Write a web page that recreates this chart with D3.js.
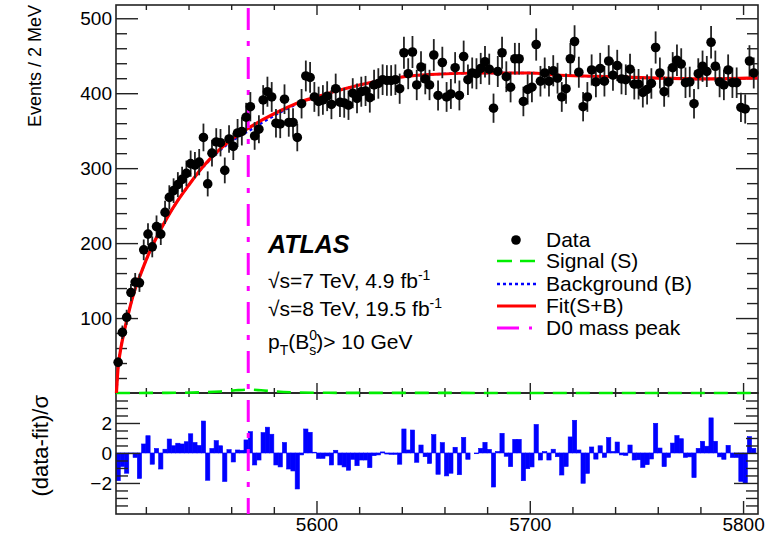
<!DOCTYPE html>
<html>
<head>
<meta charset="utf-8">
<script src="https://cdn.jsdelivr.net/npm/d3@7"></script>
<style>
body { margin: 0; background: #fff; }
text { font-family: "Liberation Sans", Arial, Helvetica, sans-serif; fill: #000; }
</style>
</head>
<body>
<div id="chart"></div>
<script>
// 2 MeV bins, lower edges
var binLow = d3.range(5506, 5806, 2);

// events per bin (top panel)
var events = [
  41, 81, 101, 134, 148, 147, 191, 212, 195, 222,
  212, 241, 261, 270, 278, 285, 293, 306, 304, 308,
  341, 279, 320, 335, 334, 297, 339, 329, 347, 349,
  368, 382, 343, 352, 391, 402, 395, 360, 359, 392,
  361, 361, 341, 386, 423, 421, 395, 389, 391, 396,
  385, 406, 388, 387, 384, 400, 393, 402, 403, 394,
  411, 413, 418, 417, 417, 418, 406, 454, 426, 455,
  411, 435, 419, 411, 451, 397, 441, 395, 399, 434,
  397, 449, 418, 427, 426, 433, 442, 432, 380, 429,
  454, 422, 408, 446, 446, 389, 405, 408, 465, 416,
  427, 416, 430, 420, 395, 406, 446, 469, 428, 382,
  395, 431, 415, 433, 416, 443, 424, 437, 419, 418,
  432, 412, 412, 401, 405, 413, 461, 427, 402, 415,
  434, 444, 439, 414, 415, 386, 426, 436, 429, 468,
  436, 415, 411, 431, 414, 414, 381, 379, 443, 427
];

// (data-fit)/sigma per bin (lower panel)
var pull = [
  -1.85, -0.9, -1.35, -0.05, -0.3, -1.7, 0.6, 1.15, -0.75, 0.3,
  -1.07, 0.25, 0.93, 0.48, 0.65, 0.6, 0.75, 1.28, 0.7, 0.5,
  2.13, -1.82, 0.3, 0.82, 0.48, -1.9, 0.22, -0.6, 0.2, 0.18,
  0.87, 1.42, -0.8, -0.47, 1.36, 1.72, 1.25, -0.8, -0.93, 0.7,
  -1.07, -1.2, -2.4, -0.13, 1.6, 1.38, 0.05, -0.36, -0.36, -0.2,
  -0.8, 0.18, -0.8, -0.93, -1.15, -0.42, -0.85, -0.47, -0.47, -0.98,
  -0.18, -0.13, 0.07, -0.07, -0.09, -0.09, -0.75, 1.6, 0.2, 1.53,
  -0.62, 0.53, -0.25, -0.7, 1.22, -1.42, 0.69, -1.53, -1.35, 0.38,
  -1.45, 1.04, -0.42, 0.0, -0.05, 0.31, 0.71, 0.24, -2.27, 0.1,
  1.31, -0.22, -0.91, 0.91, 0.91, -1.85, -1.05, -0.93, 1.9, -0.47,
  0.09, -0.47, 0.25, -0.25, -1.47, -0.9, 1.07, 2.18, 0.2, -2.02,
  -1.36, 0.4, -0.41, 0.48, -0.29, 1.03, 0.1, 0.73, -0.13, -0.16,
  0.53, -0.47, -0.45, -0.96, -0.78, -0.4, 1.98, 0.33, -0.91, -0.29,
  0.66, 1.16, 0.95, -0.29, -0.26, -1.64, 0.31, 0.78, 0.45, 2.34,
  0.78, -0.26, -0.42, 0.51, -0.3, -0.3, -1.9, -2.0, 1.09, 0.31
];

// fit and background curves
var fitMass   = [5506.2, 5507, 5508, 5510, 5512, 5514, 5518, 5522, 5526, 5530, 5535, 5540, 5545, 5550, 5555, 5560, 5565, 5569, 5575, 5584, 5592, 5600, 5608, 5616, 5630, 5653, 5680, 5700, 5714, 5740, 5760, 5780, 5806.8];
var fitEvents = [0, 35, 55, 84, 108, 130, 162, 190, 213, 234, 257, 277, 296, 312, 326, 338, 348, 355, 365, 378, 388, 395, 402, 408, 417, 425, 427, 427, 424, 422, 420, 419, 420.5];
var bkgEvents = [0, 35, 55, 84, 108, 130, 162, 190, 213, 234, 257, 277, 295.5, 311, 324.5, 335.5, 344.5, 351, 361.5, 376, 387, 395, 402, 408, 417, 425, 427, 427, 424, 422, 420, 419, 420.5];

// signal component
var sigMass   = [5506, 5530, 5545, 5555, 5562, 5568, 5574, 5581, 5591, 5610, 5807];
var sigEvents = [0, 0.2, 0.8, 2, 3.6, 4.5, 3.6, 2, 0.8, 0.2, 0];

var d0Mass = 5568;
var xTicks = [5600, 5700, 5800];
var yTicks = [100, 200, 300, 400, 500];
var pullTicks = [-2, 0, 2];
var legendLabels = ["Data", "Signal (S)", "Background (B)", "Fit(S+B)", "D0 mass peak"];

var W = 777, H = 537;
var pLeft = 116, pRight = 758, pTop = 5, pMid = 393, pBottom = 514;

var svg = d3.select("#chart").append("svg")
    .attr("width", W)
    .attr("height", H);

var x = d3.scaleLinear().domain([5506, 5807]).range([pLeft, pRight]);
var y = d3.scaleLinear().domain([0, 517.7]).range([pMid, pTop]);
var yp = d3.scaleLinear().domain([-4.07, 4]).range([pBottom, pMid]);

var xMinor = d3.range(5520, 5807, 20).filter(function(v) { return v % 100 != 0; });
var yMinor = d3.range(20, 517, 20).filter(function(v) { return v % 100 != 0; });
var pMinor = d3.range(-4, 4.01, 0.5).filter(function(v) { return v % 2 != 0; });

function styleAxis(g) {
    g.select(".domain").remove();
    g.selectAll(".tick line").attr("stroke", "#222").attr("stroke-width", 1.4);
    g.selectAll(".tick text").style("font-size", "19px").attr("fill", "#000")
        .style("font-family", "'Liberation Sans', Arial, sans-serif");
}

// residual bars
svg.append("g").selectAll("rect")
    .data(pull)
    .enter().append("rect")
    .attr("x", function(d, i) { return x(binLow[i]); })
    .attr("width", function(d, i) { return x(binLow[i] + 2) - x(binLow[i]); })
    .attr("y", function(d) { return yp(Math.max(0, d)); })
    .attr("height", function(d) { return Math.abs(yp(d) - yp(0)); })
    .attr("fill", "#0000ff")
    .attr("stroke", "#0000ff")
    .attr("stroke-width", 0.6);

// top panel axes
svg.append("g").attr("transform", "translate(" + pLeft + ",0)")
    .call(d3.axisLeft(y).tickValues(yTicks).tickSize(-22).tickPadding(4).tickFormat(d3.format("d")))
    .call(styleAxis);
svg.append("g").attr("transform", "translate(" + pLeft + ",0)")
    .call(d3.axisLeft(y).tickValues(yMinor).tickSize(-11).tickFormat(""))
    .call(styleAxis);
svg.append("g").attr("transform", "translate(" + pRight + ",0)")
    .call(d3.axisRight(y).tickValues(yTicks).tickSize(-22).tickFormat(""))
    .call(styleAxis);
svg.append("g").attr("transform", "translate(" + pRight + ",0)")
    .call(d3.axisRight(y).tickValues(yMinor).tickSize(-11).tickFormat(""))
    .call(styleAxis);
svg.append("g").attr("transform", "translate(0," + pTop + ")")
    .call(d3.axisTop(x).tickValues(xTicks).tickSize(-10).tickFormat(""))
    .call(styleAxis);
svg.append("g").attr("transform", "translate(0," + pTop + ")")
    .call(d3.axisTop(x).tickValues(xMinor).tickSize(-5).tickFormat(""))
    .call(styleAxis);
svg.append("g").attr("transform", "translate(0," + pMid + ")")
    .call(d3.axisBottom(x).tickValues(xTicks).tickSize(-10).tickFormat(""))
    .call(styleAxis);
svg.append("g").attr("transform", "translate(0," + pMid + ")")
    .call(d3.axisBottom(x).tickValues(xMinor).tickSize(-5).tickFormat(""))
    .call(styleAxis);

// lower panel axes
svg.append("g").attr("transform", "translate(" + pLeft + ",0)")
    .call(d3.axisLeft(yp).tickValues(pullTicks).tickSize(-24).tickPadding(4).tickFormat(d3.format("d")))
    .call(styleAxis);
svg.append("g").attr("transform", "translate(" + pLeft + ",0)")
    .call(d3.axisLeft(yp).tickValues(pMinor).tickSize(-12).tickFormat(""))
    .call(styleAxis);
svg.append("g").attr("transform", "translate(" + pRight + ",0)")
    .call(d3.axisRight(yp).tickValues(pullTicks).tickSize(-24).tickFormat(""))
    .call(styleAxis);
svg.append("g").attr("transform", "translate(" + pRight + ",0)")
    .call(d3.axisRight(yp).tickValues(pMinor).tickSize(-12).tickFormat(""))
    .call(styleAxis);
svg.append("g").attr("transform", "translate(0," + pMid + ")")
    .call(d3.axisTop(x).tickValues(xTicks).tickSize(-7).tickFormat(""))
    .call(styleAxis);
svg.append("g").attr("transform", "translate(0," + pMid + ")")
    .call(d3.axisTop(x).tickValues(xMinor).tickSize(-4).tickFormat(""))
    .call(styleAxis);
svg.append("g").attr("transform", "translate(0," + pBottom + ")")
    .call(d3.axisBottom(x).tickValues(xTicks).tickSize(-13).tickPadding(3).tickFormat(d3.format("d")))
    .call(styleAxis);
svg.append("g").attr("transform", "translate(0," + pBottom + ")")
    .call(d3.axisBottom(x).tickValues(xMinor).tickSize(-7).tickFormat(""))
    .call(styleAxis);

// frames
svg.append("rect").attr("x", pLeft).attr("y", pTop).attr("width", pRight - pLeft).attr("height", pMid - pTop)
    .attr("fill", "none").attr("stroke", "#222").attr("stroke-width", 1.6);
svg.append("rect").attr("x", pLeft).attr("y", pMid).attr("width", pRight - pLeft).attr("height", pBottom - pMid)
    .attr("fill", "none").attr("stroke", "#222").attr("stroke-width", 1.6);

// axis titles
svg.append("text")
    .attr("transform", "translate(41," + pTop + ") rotate(-90)")
    .style("text-anchor", "end")
    .style("font-size", "18px")
    .text("Events / 2 MeV");
svg.append("text")
    .attr("transform", "translate(48," + (pMid + 2) + ") rotate(-90)")
    .style("text-anchor", "end")
    .style("font-size", "22px")
    .text("(data-fit)/σ");

// signal, background, fit
var curve = function(xs, ys) {
    return d3.line()
        .curve(d3.curveMonotoneX)
        .x(function(d, i) { return x(xs[i]); })
        .y(function(d) { return y(d); })(ys);
};
svg.append("path")
    .attr("d", curve(sigMass, sigEvents))
    .attr("fill", "none").attr("stroke", "#00ee00").attr("stroke-width", 2.6)
    .attr("stroke-dasharray", "14,9");
svg.append("path")
    .attr("d", curve(fitMass, bkgEvents))
    .attr("fill", "none").attr("stroke", "#0000ff").attr("stroke-width", 2.4)
    .attr("stroke-dasharray", "3,3");
svg.append("path")
    .attr("d", curve(fitMass, fitEvents))
    .attr("fill", "none").attr("stroke", "#ff0000").attr("stroke-width", 3.2);

// D0 line
svg.append("line")
    .attr("x1", x(d0Mass)).attr("x2", x(d0Mass))
    .attr("y1", pTop + 3).attr("y2", pBottom)
    .attr("stroke", "#ff00ff").attr("stroke-width", 3)
    .attr("stroke-dasharray", "22,11,5,11");

// data points with sqrt(N) errors
var pts = svg.append("g");
pts.selectAll("line")
    .data(events)
    .enter().append("line")
    .attr("x1", function(d, i) { return x(binLow[i] + 1); })
    .attr("x2", function(d, i) { return x(binLow[i] + 1); })
    .attr("y1", function(d) { return y(d - Math.sqrt(d)); })
    .attr("y2", function(d) { return y(d + Math.sqrt(d)); })
    .attr("stroke", "#222")
    .attr("stroke-width", 1.8);
pts.selectAll("circle")
    .data(events)
    .enter().append("circle")
    .attr("cx", function(d, i) { return x(binLow[i] + 1); })
    .attr("cy", function(d) { return y(d); })
    .attr("r", 4.8)
    .attr("fill", "#000");

// ATLAS label
var lab = svg.append("g");
lab.append("text").attr("x", 268).attr("y", 253)
    .style("font-size", "25px").style("font-weight", "bold").style("font-style", "italic")
    .text("ATLAS");
var l1 = lab.append("text").attr("x", 268).attr("y", 288).style("font-size", "21px");
l1.append("tspan").text("√s=7 TeV, 4.9 fb");
l1.append("tspan").attr("dy", -8).style("font-size", "14px").text("-1");
var l2 = lab.append("text").attr("x", 268).attr("y", 316).style("font-size", "21px");
l2.append("tspan").text("√s=8 TeV, 19.5 fb");
l2.append("tspan").attr("dy", -8).style("font-size", "14px").text("-1");
var l3 = lab.append("text").attr("x", 268).attr("y", 349).style("font-size", "21px");
l3.append("tspan").text("p");
l3.append("tspan").attr("dy", 6).style("font-size", "14px").text("T");
l3.append("tspan").attr("dy", -6).text("(B");
l3.append("tspan").attr("dy", -9).style("font-size", "14px").text("0");
l3.append("tspan").attr("dx", -7.8).attr("dy", 15).style("font-size", "14px").text("s");
l3.append("tspan").attr("dy", -6).text(")> 10 GeV");

// legend
var legY = [240, 261, 284, 306, 328];
var leg = svg.append("g");
leg.append("circle").attr("cx", 516).attr("cy", legY[0]).attr("r", 4.8).attr("fill", "#000");
leg.append("line").attr("x1", 497).attr("x2", 536).attr("y1", legY[1]).attr("y2", legY[1])
    .attr("stroke", "#00ee00").attr("stroke-width", 2.6).attr("stroke-dasharray", "15,8");
leg.append("line").attr("x1", 497).attr("x2", 536).attr("y1", legY[2]).attr("y2", legY[2])
    .attr("stroke", "#0000ff").attr("stroke-width", 2.6).attr("stroke-dasharray", "3,3");
leg.append("line").attr("x1", 497).attr("x2", 536).attr("y1", legY[3]).attr("y2", legY[3])
    .attr("stroke", "#ff0000").attr("stroke-width", 3);
leg.append("line").attr("x1", 497).attr("x2", 536).attr("y1", legY[4]).attr("y2", legY[4])
    .attr("stroke", "#ff00ff").attr("stroke-width", 3).attr("stroke-dasharray", "22,10,3,20");
leg.selectAll("text.lg")
    .data(legendLabels)
    .enter().append("text")
    .attr("class", "lg")
    .attr("x", 546)
    .attr("y", function(d, i) { return legY[i] + 7; })
    .style("font-size", "21px")
    .text(function(d) { return d; });
</script>
</body>
</html>
